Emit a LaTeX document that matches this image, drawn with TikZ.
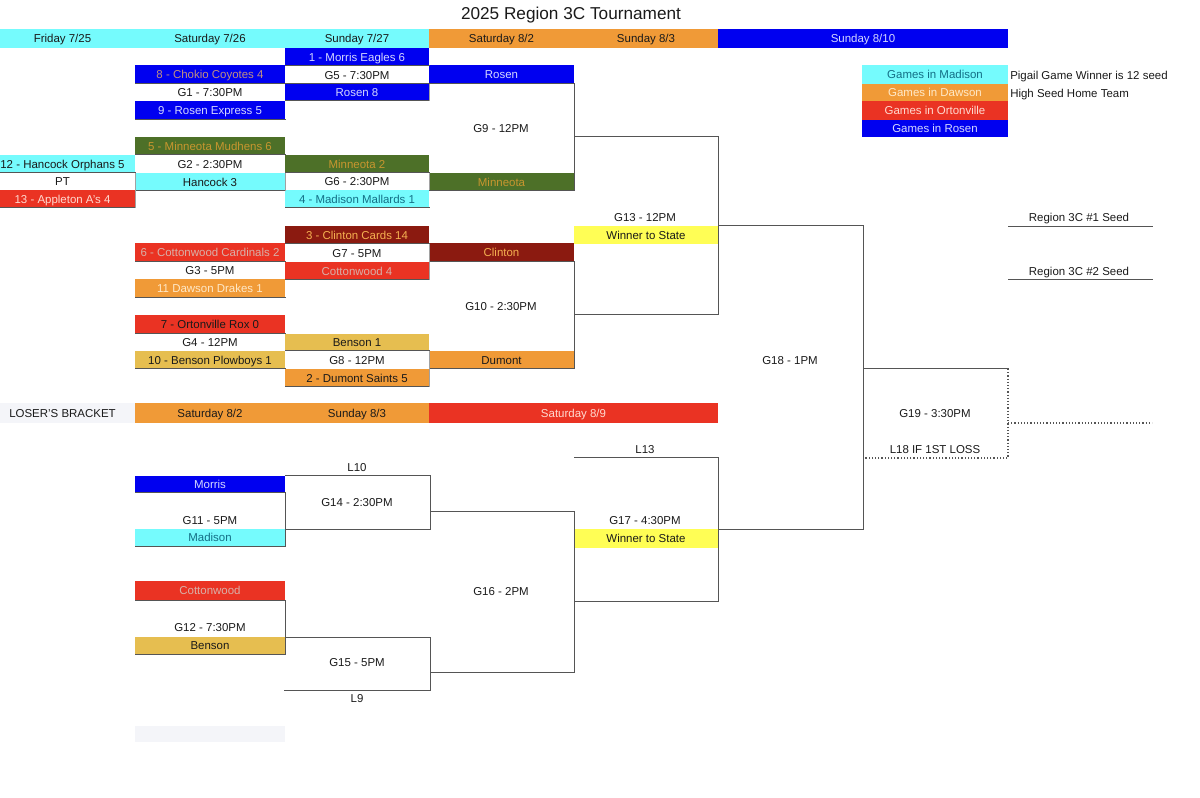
\documentclass[tikz,border=0pt]{standalone}
\usepackage{fontspec}
\setmainfont{Liberation Sans}
\definecolor{cy}{HTML}{75FBFD}
\definecolor{org}{HTML}{F09A37}
\definecolor{rd}{HTML}{EA3323}
\definecolor{bl}{HTML}{0000F0}
\definecolor{grn}{HTML}{4D7028}
\definecolor{drd}{HTML}{8B1A10}
\definecolor{gold}{HTML}{E6BE50}
\definecolor{yel}{HTML}{FFFE55}
\definecolor{pale}{HTML}{F4F5F9}
\definecolor{ln}{HTML}{555555}
\definecolor{teal}{HTML}{136F86}
\definecolor{ink}{HTML}{1A1A1A}
\definecolor{ltbl}{HTML}{D5D8FF}
\definecolor{dorg}{HTML}{C8962F}
\definecolor{corg}{HTML}{F5B050}
\definecolor{gry}{HTML}{D8B0A8}
\definecolor{cgr}{HTML}{C09080}
\definecolor{pch}{HTML}{FFE9C8}
\definecolor{lrd}{HTML}{FFDAD0}
\tikzset{
  cell/.style={inner sep=0pt,outer sep=0pt,font=\fontsize{8.6pt}{10pt}\selectfont,text=ink,anchor=center,text height=6.2pt,text depth=0pt},
  wire/.style={draw=ln,line width=0.75pt,line cap=rect},
  side/.style={draw=ln!55,line width=0.6pt},
  dots/.style={draw=ln,line width=0.9pt,dash pattern=on 0.9pt off 1.5pt},
  lab/.style={inner sep=0pt,font=\fontsize{8.6pt}{10pt}\selectfont,text=ink,text height=6.2pt,text depth=0pt},
}
% name, x1, y1, x2, y2, fill, text colour, text
\newcommand{\bx}[8]{\node[cell,fill=#6,text=#7,minimum width={(#4-#2)*0.75pt},minimum height={(#5-#3)*0.75pt}] (#1) at ({(#2+#4)/2},{(#3+#5)/2}) {#8};}
\begin{document}
\begin{tikzpicture}[x=0.75pt,y=-0.75pt]
\useasboundingbox (0,0) rectangle (1200,798);
\node[inner sep=0pt,font=\fontsize{12.9pt}{15pt}\selectfont,text=ink,text height=9.3pt,text depth=0pt] (title) at (571,13) {2025 Region 3C Tournament};
% headers
\bx{hfri}{-10}{29}{135}{48}{cy}{ink}{Friday 7/25}
\bx{hsat}{135}{29}{285}{48}{cy}{ink}{Saturday 7/26}
\bx{hsun}{285}{29}{429}{48}{cy}{ink}{Sunday 7/27}
\bx{hsatb}{429}{29}{574}{48}{org}{ink}{Saturday 8/2}
\bx{hsunb}{574}{29}{718}{48}{org}{ink}{Sunday 8/3}
\bx{hfin}{718}{29}{1008}{48}{bl}{ltbl}{Sunday 8/10}
% legend
\bx{lmad}{862}{65}{1008}{84}{cy}{teal}{Games in Madison}
\bx{ldaw}{862}{84}{1008}{101}{org}{pch}{Games in Dawson}
\bx{lort}{862}{101}{1008}{120}{rd}{lrd}{Games in Ortonville}
\bx{lros}{862}{120}{1008}{137}{bl}{ltbl}{Games in Rosen}
\node[lab,anchor=west] (pig) at (1010,75) {Pigail Game Winner is 12 seed};
\node[lab,anchor=west] (high) at (1010,93) {High Seed Home Team};
% Friday
\bx{ham}{-10}{155}{135}{173}{cy}{ink}{12 - Hancock Orphans 5}
\bx{pt}{-10}{173}{135}{190}{white}{ink}{PT}
\bx{app}{-10}{190}{135}{208}{rd}{lrd}{13 - Appleton A's 4}
% Saturday
\bx{cho}{135}{65}{285}{84}{bl}{cgr}{8 - Chokio Coyotes 4}
\bx{g1}{135}{84}{285}{101}{white}{ink}{G1 - 7:30PM}
\bx{rex}{135}{101}{285}{120}{bl}{ltbl}{9 - Rosen Express 5}
\bx{mud}{135}{137}{285}{155}{grn}{dorg}{5 - Minneota Mudhens 6}
\bx{g2}{135}{155}{285}{173}{white}{ink}{G2 - 2:30PM}
\bx{han}{135}{173}{285}{191}{cy}{ink}{Hancock 3}
\bx{car}{135}{243}{285}{262}{rd}{gry}{6 - Cottonwood Cardinals 2}
\bx{g3}{135}{262}{285}{279}{white}{ink}{G3 - 5PM}
\bx{dra}{135}{279}{285}{298}{org}{pch}{11 Dawson Drakes 1}
\bx{rox}{135}{315}{285}{334}{rd}{ink}{7 - Ortonville Rox 0}
\bx{g4}{135}{334}{285}{351}{white}{ink}{G4 - 12PM}
\bx{plo}{135}{351}{285}{369}{gold}{ink}{10 - Benson Plowboys 1}
% Sunday
\bx{mor}{285}{48}{429}{66}{bl}{ltbl}{1  - Morris Eagles 6}
\bx{g5}{285}{66}{429}{84}{white}{ink}{G5 - 7:30PM}
\bx{ros}{285}{84}{429}{101}{bl}{ltbl}{Rosen 8}
\bx{min}{285}{155}{429}{173}{grn}{dorg}{Minneota 2}
\bx{g6}{285}{173}{429}{190}{white}{ink}{G6 - 2:30PM}
\bx{mal}{285}{190}{429}{208}{cy}{teal}{4 - Madison Mallards 1}
\bx{cli}{285}{226}{429}{244}{drd}{corg}{3 - Clinton Cards 14}
\bx{g7}{285}{244}{429}{262}{white}{ink}{G7 - 5PM}
\bx{cot}{285}{262}{429}{280}{rd}{gry}{Cottonwood 4}
\bx{ben}{285}{334}{429}{351}{gold}{ink}{Benson 1}
\bx{g8}{285}{351}{429}{369}{white}{ink}{G8 - 12PM}
\bx{dum}{285}{369}{429}{387}{org}{ink}{2  - Dumont Saints 5}
% Next round
\bx{qros}{429}{65}{574}{84}{bl}{ltbl}{Rosen}
\bx{qmin}{429}{173}{574}{191}{grn}{dorg}{Minneota}
\bx{qcli}{429}{243}{574}{262}{drd}{corg}{Clinton}
\bx{qdum}{429}{351}{574}{369}{org}{ink}{Dumont}
\bx{w13}{574}{226}{718}{244}{yel}{ink}{Winner to State}
% Loser header
\bx{lbk}{-10}{403}{135}{423}{pale}{ink}{LOSER'S BRACKET}
\bx{lsat}{135}{403}{285}{423}{org}{ink}{Saturday 8/2}
\bx{lsun}{285}{403}{429}{423}{org}{ink}{Sunday 8/3}
\bx{lfin}{429}{403}{718}{423}{rd}{lrd}{Saturday 8/9}
% Loser boxes
\bx{lmor}{135}{476}{285}{493}{bl}{ltbl}{Morris}
\bx{lmd}{135}{529}{285}{546}{cy}{teal}{Madison}
\bx{lcot}{135}{581}{285}{600}{rd}{gry}{Cottonwood}
\bx{lben}{135}{637}{285}{654}{gold}{ink}{Benson}
\bx{blank}{135}{726}{285}{742}{pale}{ink}{}
\bx{w17}{574}{529}{718}{548}{yel}{ink}{Winner to State}
% Labels
\node[lab] (g9) at (501,128) {G9 - 12PM};
\node[lab] (g10) at (501,306) {G10 - 2:30PM};
\node[lab] (g13) at (645,217) {G13 - 12PM};
\node[lab] (g18) at (790,360) {G18 - 1PM};
\node[lab] (g19) at (935,413) {G19 - 3:30PM};
\node[lab] (l18) at (935,449) {L18 IF 1ST LOSS};
\node[lab] (s1) at (1079,217) {Region 3C \#1 Seed};
\node[lab] (s2) at (1079,271) {Region 3C \#2 Seed};
\node[lab] (l10) at (357,467) {L10};
\node[lab] (g14) at (357,502) {G14 - 2:30PM};
\node[lab] (g11) at (210,520) {G11 - 5PM};
\node[lab] (g12) at (210,627) {G12 - 7:30PM};
\node[lab] (g15) at (357,662) {G15 - 5PM};
\node[lab] (l9) at (357,698) {L9};
\node[lab] (g16) at (501,591) {G16 - 2PM};
\node[lab] (l13) at (645,449) {L13};
\node[lab] (g17) at (645,520) {G17 - 4:30PM};
% Free ends
\coordinate (a1) at (574,137); \coordinate (a2) at (718,137);
\coordinate (b1) at (574,315); \coordinate (b2) at (718,315);
\coordinate (c2) at (863,226);
\coordinate (d1) at (718,529); \coordinate (d2) at (863,529);
\coordinate (e1) at (863,369); \coordinate (e2) at (1008,369);
\coordinate (e3) at (1008,458); \coordinate (e4) at (864,458);
\coordinate (e5) at (1008,423); \coordinate (e6) at (1152,423);
\coordinate (s1a) at (1008,227); \coordinate (s1b) at (1152,227);
\coordinate (s2a) at (1008,280); \coordinate (s2b) at (1152,280);
\coordinate (f1) at (285,476); \coordinate (f2) at (430,476);
\coordinate (f3) at (430,529); \coordinate (f4) at (285,529);
\coordinate (h1) at (430,512); \coordinate (h2) at (574,512);
\coordinate (h3) at (574,672); \coordinate (h4) at (430,672);
\coordinate (i1) at (285,637); \coordinate (i2) at (430,637);
\coordinate (i3) at (430,690); \coordinate (i4) at (284,690);
\coordinate (j1) at (574,458); \coordinate (j2) at (718,458);
\coordinate (j3) at (718,601); \coordinate (j4) at (574,601);
% Box rules
\foreach \n in {cho,rex,mud,han,car,dra,rox,plo,mor,g5,ros,min,mal,cli,cot,ben,dum,app,ham,qros,qmin,qcli,qdum,lmor,lmd,lcot,lben}{
  \draw[wire] (\n.south west) -- (\n.south east);
}
% Short side rules
\draw[side] (pt.north east) -- (app.south east);
\draw[side] (han.north east) -- (han.south east);
\draw[side] (ros.north east) -- (ros.south east);
\draw[side] (g6.north east) -- (g6.south east);
\draw[side] (g7.north east) -- (cot.south east);
\draw[side] (g8.north east) -- (dum.south east);
% Brackets
\draw[wire] (qros.south east) -- (qmin.south east);
\draw[wire] (a1) -- (a2) -- (b2) -- (b1);
\draw[wire] (qcli.south east) -- (qdum.south east);
\draw[wire] (w13.north east) -- (c2) -- (d2) -- (d1);
\draw[wire] (e1) -- (e2);
\draw[dots] (e2) -- (e3) -- (e4);
\draw[dots] (e5) -- (e6);
\draw[wire] (s1a) -- (s1b);
\draw[wire] (s2a) -- (s2b);
\draw[wire] (lmor.south east) -- (lmd.south east);
\draw[wire] (f1) -- (f2) -- (f3) -- (f4);
\draw[wire] (h1) -- (h2) -- (h3) -- (h4);
\draw[wire] (lcot.south east) -- (lben.south east);
\draw[wire] (i1) -- (i2) -- (i3) -- (i4);
\draw[wire] (j1) -- (j2) -- (j3) -- (j4);
\end{tikzpicture}
\end{document}
